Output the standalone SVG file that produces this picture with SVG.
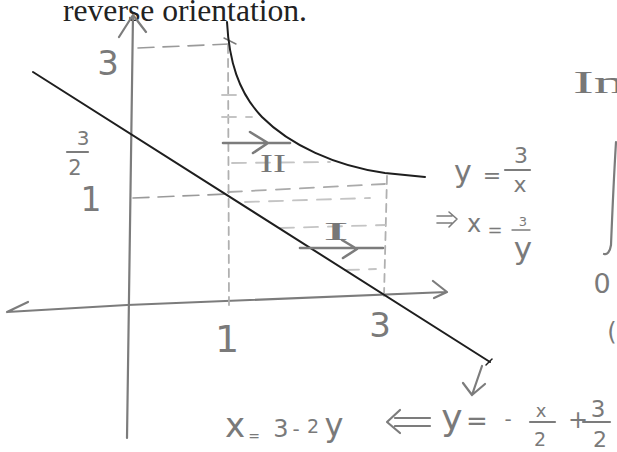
<svg xmlns="http://www.w3.org/2000/svg" width="617" height="452" viewBox="0 0 617 452">
<style>
.pen{fill:none;stroke:#7c7c7c;stroke-width:2.2;stroke-linecap:round;stroke-linejoin:round}
.ink{fill:none;stroke:#1e1e1e;stroke-width:2;stroke-linecap:round}
.dash{fill:none;stroke:#9a9a9a;stroke-width:1.6;stroke-dasharray:16 9;stroke-linecap:round}
.faint{fill:none;stroke:#c4c4c4;stroke-width:1.8;stroke-dasharray:14 10;stroke-linecap:round}
.hw{font-family:"DejaVu Sans",sans-serif;fill:#7a7a7a;text-anchor:middle}
.rom{font-family:"Liberation Serif",serif;fill:#777;text-anchor:middle}
</style>
<rect width="617" height="452" fill="#fff"/>
<text x="63" y="21" font-family="Liberation Serif, serif" font-size="32" fill="#222" textLength="244" lengthAdjust="spacingAndGlyphs">reverse orientation.</text>

<g id="axes">
<path class="pen" d="M127,438 L133,15 M119,37 L133,15 L146,32"/>
<path class="pen" d="M7,312 L127,305 L447,292 M433,281 L447,292 L434,298 M7,312 L28,302"/>
</g>

<g id="guides">
<path class="dash" d="M138,48 L230,44"/>
<path class="pen" style="stroke-width:1.4" d="M224,38 L236,44"/>
<path class="faint" style="stroke:#b0b0b0;stroke-dasharray:8 6" d="M228,45 L229,306"/>
<path class="faint" style="stroke:#b0b0b0;stroke-dasharray:8 6" d="M387,176 L384,296"/>
<path class="dash" d="M133,198 L228,194"/>
<path class="faint" style="stroke:#aaa" d="M228,192 L385,184"/>
<path class="faint" d="M222,95 L242,95 M222,117 L252,117 M232,163 L330,162 M245,202 L370,198 M280,228 L385,225 M345,270 L376,269"/>
</g>

<g id="curve-y-3-over-x">
<path class="ink" d="M227,22 C229,60 238,92 262,117 C290,145 335,166 385,173 L425,177"/>
</g>

<g id="line-y">
<path class="ink" d="M33,72 L490,362"/>
<path class="ink" style="stroke-width:1.5" d="M486,365 L492,359"/>
</g>

<g id="strips">
<path class="pen" style="stroke-width:2.6" d="M223,143 L290,143 M250,132 L268,143 L253,153"/>
<path class="pen" style="stroke-width:2.6" d="M300,248 L383,248 M342,240 L357,249 L343,258"/>
<text class="rom" x="273" y="172" font-size="25" textLength="26" lengthAdjust="spacingAndGlyphs">II</text>
<text class="rom" x="336" y="240" font-size="25" textLength="26" lengthAdjust="spacingAndGlyphs">I</text>
</g>

<g id="y-labels">
<text class="hw" x="108" y="75" font-size="34">3</text>
<text class="hw" x="83" y="145" font-size="20">3</text>
<path class="pen" d="M67,152 L88,152"/>
<text class="hw" x="75" y="175" font-size="21">2</text>
<text class="hw" x="91" y="211" font-size="33">1</text>
</g>

<g id="x-labels">
<text class="hw" x="227" y="352" font-size="38">1</text>
<text class="hw" x="380" y="337" font-size="34">3</text>
</g>

<g id="eq-curve">
<text class="hw" x="463" y="182" font-size="30">y</text>
<text class="hw" x="492" y="183" font-size="22">=</text>
<text class="hw" x="521" y="163" font-size="22">3</text>
<path class="pen" d="M505,170 L530,170"/>
<text class="hw" x="520" y="192" font-size="22">x</text>
<path class="pen" style="stroke-width:1.6" d="M437,216 L452,216 M437,223 L452,223 M449,212 L457,219 L449,227"/>
<text class="hw" x="474" y="232" font-size="24">x</text>
<text class="hw" x="495" y="236" font-size="18">=</text>
<text class="hw" x="523" y="226" font-size="13">3</text>
<path class="pen" style="stroke-width:1.4" d="M512,230 L530,230"/>
<text class="hw" x="523" y="259" font-size="31">y</text>
</g>

<g id="right-edge">
<text class="rom" x="573" y="93" font-size="32" style="text-anchor:start" textLength="52" lengthAdjust="spacingAndGlyphs">In</text>
<path class="pen" d="M616,142 C614,175 612,220 611,245 C610,252 607,255 604,254"/>
<text class="hw" x="602" y="293" font-size="27">0</text>
<text class="hw" x="612" y="340" font-size="24">(</text>
</g>

<g id="eq-line">
<path class="pen" d="M482,366 L472,395 M463,383 L472,395 L485,384"/>
<text class="hw" x="235" y="437" font-size="34">x</text>
<text class="hw" x="254" y="441" font-size="14">=</text>
<text class="hw" x="281" y="437" font-size="24">3</text>
<text class="hw" x="296" y="436" font-size="20">-</text>
<text class="hw" x="313" y="433" font-size="19">2</text>
<text class="hw" x="334" y="436" font-size="32">y</text>
<path class="pen" d="M395,418 L430,418 M395,426 L430,426 M400,410 L387,422 L400,433"/>
<text class="hw" x="452" y="430" font-size="36">y</text>
<text class="hw" x="477" y="430" font-size="26">=</text>
<text class="hw" x="508" y="426" font-size="20">-</text>
<text class="hw" x="541" y="417" font-size="18">x</text>
<path class="pen" d="M530,422 L555,422"/>
<text class="hw" x="540" y="446" font-size="19">2</text>
<text class="hw" x="578" y="428" font-size="24">+</text>
<text class="hw" x="598" y="417" font-size="23">3</text>
<path class="pen" d="M583,422 L610,422"/>
<text class="hw" x="600" y="447" font-size="22">2</text>
</g>
</svg>
